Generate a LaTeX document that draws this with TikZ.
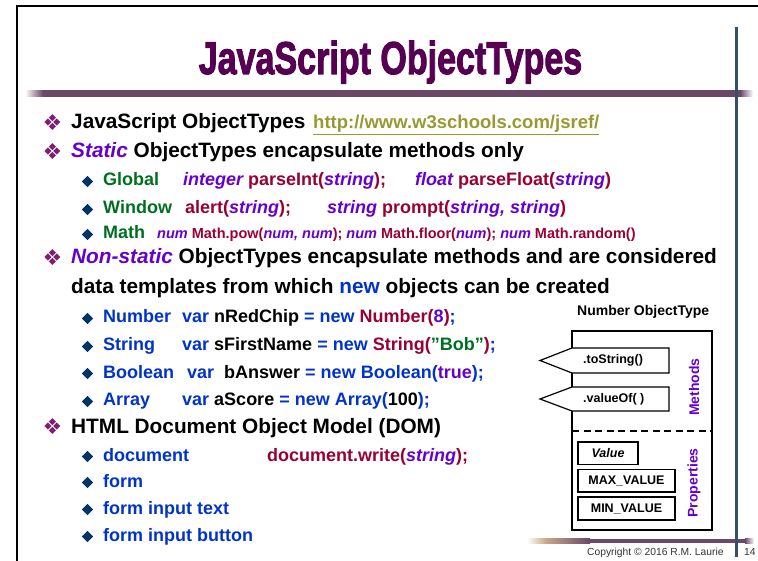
\documentclass[tikz,border=0pt]{standalone}
\usepackage{fontspec}
\setmainfont{Liberation Sans}
\newfontfamily\symfont{DejaVu Sans}
\newfontfamily\titlefont[BoldFeatures={FakeBold=2.5}]{Liberation Sans}
\usetikzlibrary{shapes.geometric}

\definecolor{titlepurple}{HTML}{550050}
\definecolor{bulletpurple}{HTML}{7A2070}
\definecolor{bulletnavy}{HTML}{003366}
\definecolor{linkolive}{HTML}{999933}
\definecolor{keyviolet}{HTML}{6600CC}
\definecolor{objgreen}{HTML}{007020}
\definecolor{callred}{HTML}{990033}
\definecolor{codeblue}{HTML}{0033CC}
\definecolor{barmauve}{HTML}{6B4868}
\definecolor{bartan}{HTML}{C8A888}
\definecolor{rulegray}{HTML}{34506B}

\newcommand{\vio}[1]{\textcolor{keyviolet}{\itshape #1}}
\newcommand{\crim}[1]{\textcolor{callred}{#1}}
\newcommand{\blu}[1]{\textcolor{codeblue}{#1}}

\begin{document}
\begin{tikzpicture}
[x=1pt,y=-1pt,
 leadtext/.style={anchor=base west,inner sep=0pt,font=\fontsize{20.8}{24}\selectfont\bfseries},
 itemtext/.style={anchor=base west,inner sep=0pt,font=\fontsize{18}{22}\selectfont\bfseries},
 smalltext/.style={anchor=base west,inner sep=0pt,font=\fontsize{14.5}{17}\selectfont\bfseries},
 leadbullet/.style={inner sep=0pt,text=bulletpurple,font=\symfont\fontsize{22}{22}\selectfont},
 itembullet/.style={diamond,fill=bulletnavy,inner sep=0pt,minimum size=11.5pt},
 membertext/.style={inner sep=0pt,font=\fontsize{12.5}{14}\selectfont\bfseries},
 memberbox/.style={draw,line width=1.4pt,fill=white},
 sidelabel/.style={rotate=90,inner sep=0pt,text=keyviolet,font=\fontsize{14}{16}\selectfont\bfseries}]
\useasboundingbox (0,0) rectangle (758,561);

% slide frame and title
\draw[line width=2pt] (17,561) -- (17,6) -- (758,6);
\node[anchor=base,inner sep=0pt,text=titlepurple,font=\titlefont\bfseries\fontsize{46}{50}\selectfont]
  (title) at (390.5,74) {\scalebox{0.74}[1]{JavaScript ObjectTypes}};
\fill[barmauve] (43,90.5) rectangle (740,97);
\shade[left color=white,right color=barmauve] (25,90.5) rectangle (43,97);
\shade[left color=barmauve,right color=white] (740,90.5) rectangle (753,97);

% footer bar
\shade[left color=white,right color=bartan] (527,538.5) rectangle (546,543);
\shade[left color=bartan,right color=barmauve] (546,538.5) rectangle (590,543);
\fill[barmauve] (590,538.5) rectangle (745,543);
\shade[left color=barmauve,right color=white] (745,538.5) rectangle (754,543);
\draw[rulegray,line width=3pt] (736,27) -- (736,557);
\node[anchor=base west,inner sep=0pt,text=black!80,font=\fontsize{10.3}{12}\selectfont]
  (copy) at (587,555) {Copyright \textcopyright{} 2016 R.M. Laurie};
\node[anchor=base west,inner sep=0pt,text=black!80,font=\fontsize{10.3}{12}\selectfont]
  (page) at (744,555) {14};

% bullets
\foreach \y in {129,158,264,433}
  \node[leadbullet] (lb\y) at (52.5,\y-6.5) {❖};
\foreach \y in {186,214,239,323,351,378,406,461,487,514,541}
  \node[itembullet] (ib\y) at (87.5,\y-4.5) {};

% static object types
\node[leadtext] (jsot) at (71,129) {JavaScript ObjectTypes};
\node[leadtext,font=\fontsize{18.5}{22}\selectfont\bfseries] (url) at (313,129)
  {\textcolor{linkolive}{\underline{http://www.w3schools.com/jsref/}}};
\node[leadtext] (static) at (71,158) {\textcolor{keyviolet}{\itshape Static} ObjectTypes encapsulate methods only};
\node[itemtext,text=objgreen] (global) at (103,186) {Global};
\node[itemtext] (parseint) at (183,186) {\vio{integer} \crim{parseInt(}\vio{string}\crim{);}};
\node[itemtext] (parsefloat) at (415,186) {\vio{float} \crim{parseFloat(}\vio{string}\crim{)}};
\node[itemtext,text=objgreen] (window) at (103,214) {Window};
\node[itemtext] (alert) at (185,214) {\crim{alert(}\vio{string}\crim{);}};
\node[itemtext] (prompt) at (327,214) {\vio{string} \crim{prompt(}\vio{string, string}\crim{)}};
\node[itemtext,text=objgreen] (math) at (103,239) {Math};
\node[smalltext] (mathcalls) at (157,239) {\vio{num} \crim{Math.pow(}\vio{num, num}\crim{);}
  \vio{num} \crim{Math.floor(}\vio{num}\crim{);} \vio{num} \crim{Math.random()}};

% non-static object types
\node[leadtext] (nonstatic) at (71,264) {\textcolor{keyviolet}{\itshape Non-static} ObjectTypes encapsulate methods and are considered};
\node[leadtext] (templates) at (71,294) {data templates from which \blu{new} objects can be created};
\node[itemtext,text=codeblue] (number) at (103,323) {Number};
\node[itemtext] (numvar) at (182,323) {\blu{var} nRedChip \blu{= new} \crim{Number(}\textcolor{keyviolet}{8}\crim{)}\blu{;}};
\node[itemtext,text=codeblue] (string) at (103,351) {String};
\node[itemtext] (strvar) at (182,351) {\blu{var} sFirstName \blu{= new} \crim{String(}\textcolor{objgreen}{"Bob"}\crim{)}\blu{;}};
\node[itemtext,text=codeblue] (boolean) at (103,378) {Boolean};
\node[itemtext] (boolvar) at (187,378) {\blu{var}\ \ bAnswer \blu{= new Boolean(}\textcolor{keyviolet}{true}\blu{);}};
\node[itemtext,text=codeblue] (array) at (103,406) {Array};
\node[itemtext] (arrvar) at (182,406) {\blu{var} aScore \blu{= new Array(}100\blu{);}};

% document object model
\node[leadtext] (dom) at (71,433) {HTML Document Object Model (DOM)};
\node[itemtext,text=codeblue] (document) at (103,461) {document};
\node[itemtext] (write) at (267,461) {\crim{document.write(}\vio{string}\crim{);}};
\node[itemtext,text=codeblue] (form) at (103,487) {form};
\node[itemtext,text=codeblue] (formtext) at (103,514) {form input text};
\node[itemtext,text=codeblue] (formbutton) at (103,541) {form input button};

% number object type
\node[anchor=base west,inner sep=0pt,font=\fontsize{14}{16}\selectfont\bfseries] (numtype) at (577,316) {Number ObjectType};
\draw[line width=1.5pt] (572,331) rectangle (712,530);
\filldraw[memberbox,line width=1.2pt] (669,348) -- (572,348) -- (540,360.5) -- (572,373) -- (669,373) -- cycle;
\filldraw[memberbox,line width=1.2pt] (669,387) -- (572,387) -- (540,399) -- (572,411) -- (669,411) -- cycle;
\node[membertext,anchor=west] (tostring) at (583,360.5) {.toString()};
\node[membertext,anchor=west] (valueof) at (583,399) {.valueOf( )};
\draw[line width=1.5pt,dash pattern=on 7pt off 4.5pt] (572,431) -- (712,431);
\filldraw[memberbox] (578,442) rectangle (638,464.5);
\filldraw[memberbox] (578,469.5) rectangle (675,492);
\filldraw[memberbox] (578,497) rectangle (675,520);
\node[membertext] (value) at (608,453.5) {\itshape Value};
\node[membertext] (maxval) at (626.5,481) {MAX\_VALUE};
\node[membertext] (minval) at (626.5,508.5) {MIN\_VALUE};
\node[sidelabel] (methods) at (694,387) {Methods};
\node[sidelabel] (properties) at (694,483) {Properties};
\end{tikzpicture}
\end{document}
